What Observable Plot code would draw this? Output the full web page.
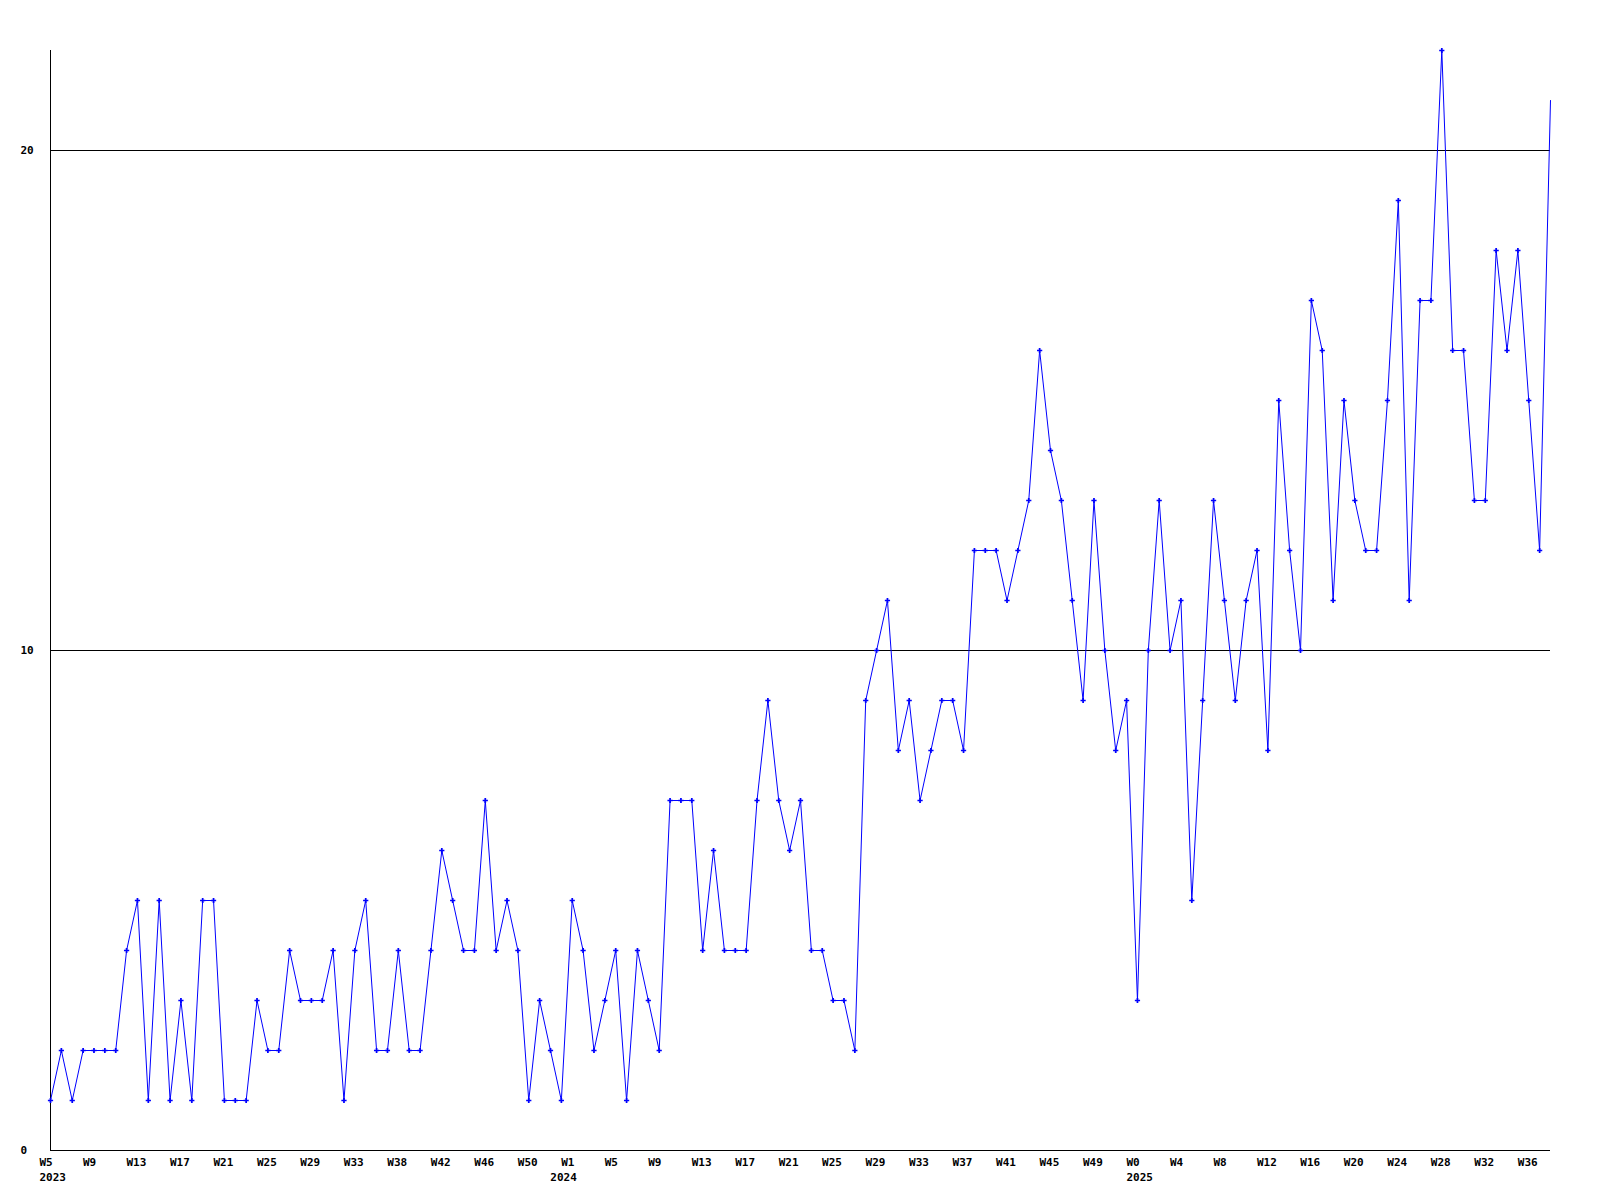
<!DOCTYPE html>
<html>
<head>
<meta charset="utf-8">
<script src="https://cdn.jsdelivr.net/npm/d3@7"></script>
<script src="https://cdn.jsdelivr.net/npm/@observablehq/plot@0.6"></script>
<style>
  html, body { margin: 0; padding: 0; background: #fff; }
  #chart svg { display: block; }
</style>
</head>
<body>
<div id="chart"></div>
<script>
// Weekly counts, from 2023 W5 onwards (one value per week)
const values = [
  1, 2, 1, 2, 2, 2, 2, 4, 5, 1,
  5, 1, 3, 1, 5, 5, 1, 1, 1, 3,
  2, 2, 4, 3, 3, 3, 4, 1, 4, 5,
  2, 2, 4, 2, 2, 4, 6, 5, 4, 4,
  7, 4, 5, 4, 1, 3, 2, 1, 5, 4,
  2, 3, 4, 1, 4, 3, 2, 7, 7, 7,
  4, 6, 4, 4, 4, 7, 9, 7, 6, 7,
  4, 4, 3, 3, 2, 9, 10, 11, 8, 9,
  7, 8, 9, 9, 8, 12, 12, 12, 11, 12,
  13, 16, 14, 13, 11, 9, 13, 10, 8, 9,
  3, 10, 13, 10, 11, 5, 9, 13, 11, 9,
  11, 12, 8, 15, 12, 10, 17, 16, 11, 15,
  13, 12, 12, 15, 19, 11, 17, 17, 22, 16,
  16, 13, 13, 18, 16, 18, 15, 12, 21
];

// Tick labels, one every 4 weeks
const weekTicks = [
  "W5", "W9", "W13", "W17", "W21", "W25", "W29", "W33", "W38", "W42", "W46", "W50",
  "W1", "W5", "W9", "W13", "W17", "W21", "W25", "W29", "W33", "W37", "W41", "W45", "W49",
  "W0", "W4", "W8", "W12", "W16", "W20", "W24", "W28", "W32", "W36"
];
const tickStep = 4;
const yearLabels = ["2023", "2024", "2025"];
const yearTickIdx = [0, 47, 100];
const yTicks = [0, 10, 20];

const data = values.map((v, i) => ({i, v}));
const tickIdx = weekTicks.map((_, k) => k * tickStep);

const font = "'DejaVu Sans Mono', 'Liberation Mono', monospace";

const chart = Plot.plot({
  width: 1600,
  height: 1200,
  marginLeft: 50,
  marginRight: 50,
  marginTop: 50,
  marginBottom: 50,
  style: {fontFamily: font, fontSize: "11px", fontWeight: "bold", color: "#000", background: "#fff"},
  x: {domain: [0, values.length - 1], axis: null, label: null},
  y: {domain: [0, 22], axis: null, label: null},
  marks: [
    Plot.ruleY([10, 20], {stroke: "#000", strokeWidth: 1, shapeRendering: "crispEdges"}),
    Plot.ruleY([0], {stroke: "#000", strokeWidth: 1, shapeRendering: "crispEdges"}),
    Plot.ruleX([0], {stroke: "#000", strokeWidth: 1, shapeRendering: "crispEdges"}),
    Plot.axisY({
      ticks: yTicks, tickSize: 0, tickPadding: 30, textAnchor: "start", label: null,
      tickFormat: d => String(d), fill: "#000", fontWeight: "bold"
    }),
    Plot.axisX({
      ticks: tickIdx, tickSize: 0, tickPadding: 8, textAnchor: "start", dx: -11, label: null,
      tickFormat: d => weekTicks[d / tickStep], fill: "#000", fontWeight: "bold"
    }),
    Plot.axisX({
      ticks: yearTickIdx, tickSize: 0, tickPadding: 23, textAnchor: "start", dx: -11, label: null,
      tickFormat: d => yearLabels[yearTickIdx.indexOf(d)], fill: "#000", fontWeight: "bold"
    }),
    Plot.line(data, {x: "i", y: "v", stroke: "#0000ff", strokeWidth: 1}),
    Plot.dot(data.slice(0, -1), {x: "i", y: "v", symbol: "cross", r: 2.2, fill: "#0000ff", stroke: "none"})
  ]
});
document.getElementById("chart").appendChild(chart);
</script>
</body>
</html>
